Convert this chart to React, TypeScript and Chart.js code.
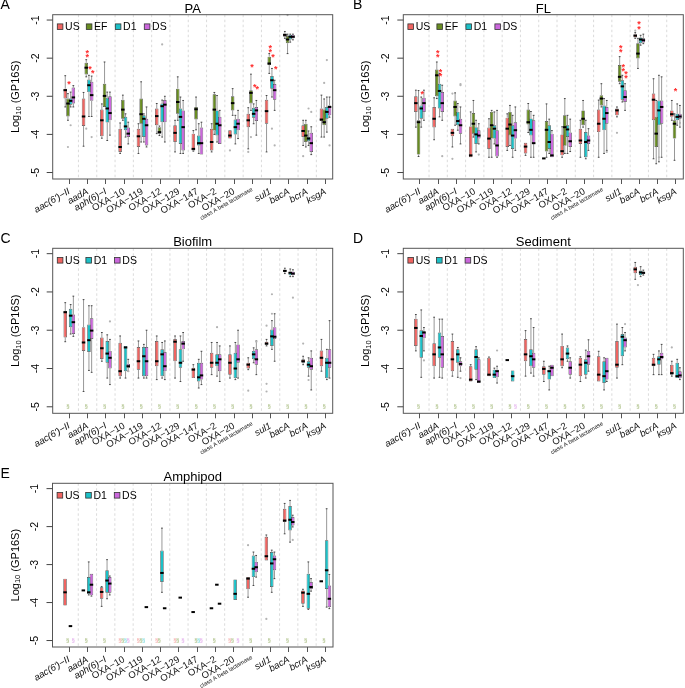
import React, { useEffect, useRef } from "react";
import { Chart, registerables } from "chart.js";

Chart.register(...registerables);

// [upper whisker, Q3, median, Q1, lower whisker] in log10 (GP16S)
type Box = [number, number, number, number, number] | null;
type Outlier = [number, number, number]; // [gene index, series index, value]
type Star = [number, number, number, number]; // [gene index, series index, top value, count]

const FONT = '"Liberation Sans", Arial, Helvetica, sans-serif';

const GENES = [
  "aac(6')\u2212II", "aadA", "aph(6)\u2212I", "OXA\u221210", "OXA\u2212119", "OXA\u221212",
  "OXA\u2212129", "OXA\u2212147", "OXA\u22122", "OXA\u221220", "class A beta lactamase",
  "sul1", "bacA", "bcrA", "ksgA",
];
const GENE_ITALIC = [true, true, true, false, false, false, false, false, false, false, false, true, true, true, true];
const SERIES = ["US", "EF", "D1", "DS"];
const SERIES_COLORS = ["#EF6461", "#688C22", "#1BC0C7", "#CB67DC"];
const Y_TICKS = [-1, -2, -3, -4, -5];
const Y_TICK_LABELS = ["-1", "-2", "-3", "-4", "-5"];
const Y_MIN = -5.17;
const Y_MAX = -0.86;
const Y_TITLE = ["Log", "10", " (GP16S)"];
const MISSING_MARK = "\u00A7";
const MISSING_VALUE = -5;

// ---------- Panel A: PA ----------
const PA_US: Box[] = [
  [-2.46, -2.8, -2.84, -3.06, -3.28], [-2.9, -3.06, -3.53, -3.78, -4.31], [-3.2, -3.35, -3.63, -4.05, -4.1],
  [-3.7, -3.85, -4.33, -4.46, -4.5], [-3.72, -3.85, -4.05, -4.33, -4.5], [-3.19, -3.32, -3.52, -3.76, -3.98],
  [-3.63, -3.76, -3.96, -4.2, -4.46], [-3.9, -3.98, -4.38, -4.42, -4.44], [-3.72, -3.85, -4.2, -4.42, -4.46],
  [-3.89, -3.89, -4.03, -4.11, -4.11], [-3.3, -3.46, -3.63, -3.81, -4.38], [-2.98, -3.09, -3.39, -3.72, -4.46],
  [-1.3, -1.35, -1.39, -1.44, -1.48], [-3.63, -3.76, -3.91, -4.07, -4.29], [-2.97, -3.32, -3.61, -3.65, -4.07],
];
const PA_EF: Box[] = [
  [-2.93, -3.06, -3.19, -3.53, -3.63], [-2.04, -2.12, -2.25, -2.43, -2.49], [-2.1, -2.67, -2.99, -3.28, -3.28],
  [-2.97, -3.09, -3.35, -3.59, -3.63], [-2.62, -3.06, -3.47, -3.72, -4.2], [-3.78, -3.81, -3.94, -3.98, -4.03],
  [-2.49, -2.8, -3.15, -3.46, -3.63], [-3.02, -3.28, -3.34, -3.61, -3.88], [-2.9, -2.95, -3.35, -3.9, -4.0],
  [-2.8, -3.0, -3.18, -3.37, -3.5], [-2.42, -2.84, -2.91, -3.19, -3.37], [-1.88, -1.96, -2.14, -2.18, -2.4],
  [-1.37, -1.42, -1.51, -1.61, -1.88], [-3.63, -3.72, -4.03, -4.2, -4.33], [-3.07, -3.35, -3.68, -3.76, -4.07],
];
const PA_D1: Box[] = [
  [-2.89, -3.06, -3.12, -3.22, -3.28], [-2.45, -2.56, -2.71, -2.89, -3.53], [-2.89, -3.04, -3.32, -3.69, -4.16],
  [-3.46, -3.54, -3.79, -3.89, -4.07], [-3.46, -3.5, -3.59, -4.07, -4.2], [-3.1, -3.19, -3.26, -3.68, -4.07],
  [-3.02, -3.32, -3.54, -4.25, -4.5], [-3.72, -4.03, -4.23, -4.29, -4.5], [-2.98, -3.37, -3.72, -4.03, -4.2],
  [-3.5, -3.61, -3.81, -4.0, -4.25], [-3.2, -3.3, -3.46, -3.56, -3.72], [-2.27, -2.47, -2.58, -2.8, -3.02],
  [-1.37, -1.39, -1.44, -1.51, -1.58], [-3.91, -4.07, -4.11, -4.18, -4.29], [-3.02, -3.28, -3.41, -3.59, -3.94],
];
const PA_DS: Box[] = [
  [-2.72, -2.77, -3.03, -3.19, -3.28], [-2.47, -2.62, -2.97, -3.12, -3.53], [-2.89, -3.0, -3.44, -3.63, -4.02],
  [-3.68, -3.82, -3.98, -4.07, -4.25], [-3.28, -3.59, -3.76, -4.29, -4.33], [-3.0, -3.1, -3.22, -3.68, -4.2],
  [-3.11, -3.37, -3.81, -4.42, -4.5], [-3.68, -3.82, -4.23, -4.53, -4.53], [-3.37, -3.54, -3.76, -4.25, -4.25],
  [-3.37, -3.59, -3.72, -3.89, -4.11], [-3.11, -3.28, -3.37, -3.65, -4.02], [-2.58, -2.68, -2.84, -3.09, -3.37],
  [-1.37, -1.39, -1.44, -1.48, -1.52], [-3.8, -3.96, -4.23, -4.46, -4.53], [-3.02, -3.24, -3.28, -3.5, -3.55],
];
const PA_OUTLIERS: Outlier[] = [
  [0, 2, -3.76], [0, 1, -4.33], [1, 1, -3.85], [1, 3, -4.07], [5, 2, -1.64], [9, 0, -4.42], [10, 0, -4.46],
  [10, 1, -4.07], [11, 2, -3.85], [11, 3, -4.29], [12, 1, -0.87], [13, 0, -4.57], [13, 2, -3.32], [13, 3, -3.41],
  [14, 2, -2.05], [14, 1, -2.65], [14, 3, -4.29],
];
const PA_STARS: Star[] = [
  [0, 1, -2.62, 1], [1, 1, -1.81, 2], [1, 2, -2.22, 1], [1, 3, -2.33, 1], [10, 1, -2.17, 1], [10, 2, -2.7, 1],
  [10, 3, -2.76, 1], [11, 1, -1.68, 2], [11, 2, -1.91, 1], [11, 3, -2.22, 1],
];

// ---------- Panel B: FL ----------
const FL_US: Box[] = [
  [-2.84, -3.0, -3.18, -3.41, -3.81], [-3.04, -3.28, -3.59, -3.82, -4.14], [-3.85, -3.85, -3.96, -4.05, -4.33],
  [-3.41, -3.79, -4.55, -4.6, -4.6], [-3.59, -3.82, -4.11, -4.38, -4.6], [-3.46, -3.56, -3.85, -4.33, -4.42],
  [-4.22, -4.22, -4.32, -4.5, -4.55], [-4.63, -4.63, -4.63, -4.63, -4.63], [-3.8, -4.0, -4.44, -4.55, -4.6],
  [-3.63, -3.85, -4.16, -4.25, -4.6], [-3.1, -3.35, -3.72, -3.94, -4.6], [-3.28, -3.32, -3.37, -3.5, -3.54],
  [-1.33, -1.37, -1.41, -1.46, -1.48], [-2.54, -2.93, -3.09, -3.63, -4.64], [-3.11, -3.37, -3.47, -3.54, -3.63],
];
const FL_EF: Box[] = [
  [-2.85, -3.63, -3.68, -4.53, -4.58], [-2.1, -2.3, -2.45, -3.0, -3.06], [-2.91, -3.11, -3.28, -3.53, -3.76],
  [-3.11, -3.44, -3.72, -3.98, -4.07], [-3.37, -3.41, -3.76, -4.11, -4.6], [-3.24, -3.41, -3.74, -4.03, -4.29],
  [-3.19, -3.35, -3.68, -3.74, -3.95], [-3.2, -3.65, -3.88, -4.45, -4.6], [-3.06, -3.5, -3.81, -4.3, -4.5],
  [-3.11, -3.37, -3.59, -3.76, -3.81], [-2.67, -2.97, -3.06, -3.24, -3.28], [-1.96, -2.18, -2.49, -2.62, -2.67],
  [-1.48, -1.61, -1.88, -2.01, -2.27], [-3.11, -3.54, -3.98, -4.33, -4.77], [-3.46, -3.63, -3.72, -4.11, -4.68],
];
const FL_D1: Box[] = [
  [-3.02, -3.24, -3.32, -3.59, -3.81], [-2.4, -2.67, -2.86, -3.32, -3.54], [-3.19, -3.41, -3.65, -3.76, -3.89],
  [-3.63, -3.81, -4.0, -4.25, -4.46], [-3.41, -3.76, -3.85, -4.11, -4.25], [-3.5, -3.76, -4.03, -4.38, -4.6],
  [-3.4, -3.58, -3.88, -4.03, -4.6], [-3.6, -3.76, -4.2, -4.38, -4.5], [-3.5, -3.76, -3.87, -4.07, -4.5],
  [-3.63, -3.94, -4.2, -4.6, -4.64], [-3.06, -3.24, -3.59, -3.89, -4.5], [-2.45, -2.58, -2.74, -3.09, -3.15],
  [-1.4, -1.46, -1.51, -1.61, -1.66], [-2.45, -3.11, -3.37, -3.76, -4.72], [-3.2, -3.46, -3.54, -3.63, -3.76],
];
const FL_DS: Box[] = [
  [-2.84, -3.04, -3.18, -3.41, -3.63], [-2.71, -2.89, -3.18, -3.41, -3.63], [-3.28, -3.59, -3.76, -3.98, -4.25],
  [-3.72, -3.89, -4.03, -4.11, -4.25], [-3.37, -3.89, -4.29, -4.58, -4.6], [-3.28, -3.68, -3.89, -4.11, -4.42],
  [-3.5, -3.63, -4.23, -4.25, -4.6], [-3.9, -3.98, -4.55, -4.6, -4.6], [-3.6, -3.95, -4.18, -4.33, -4.45],
  [-3.85, -4.03, -4.16, -4.25, -4.42], [-3.11, -3.28, -3.44, -3.72, -4.42], [-2.67, -2.84, -3.02, -3.15, -3.37],
  [-1.37, -1.48, -1.53, -1.59, -1.62], [-2.49, -3.11, -3.28, -3.72, -4.6], [-3.24, -3.46, -3.53, -3.59, -3.81],
];
const FL_OUTLIERS: Outlier[] = [
  [1, 3, -4.57], [2, 0, -4.64], [2, 0, -2.93], [2, 3, -2.68], [2, 3, -2.71], [3, 3, -4.53], [10, 3, -4.46],
  [11, 0, -3.96], [12, 0, -1.28], [13, 2, -4.6], [14, 3, -3.7],
];
const FL_STARS: Star[] = [
  [0, 2, -2.9, 1], [1, 1, -1.8, 2], [1, 2, -2.3, 2], [11, 1, -1.68, 2], [11, 2, -2.17, 2], [11, 3, -2.36, 2],
  [12, 1, -1.06, 2], [14, 1, -2.82, 1],
];

// ---------- Panel C: Biofilm ----------
const BF_US: Box[] = [
  [-2.28, -2.5, -2.53, -3.19, -3.3], [-2.2, -2.92, -3.32, -3.54, -4.6], [-3.06, -3.19, -3.47, -3.75, -3.81],
  [-3.15, -3.33, -4.07, -4.2, -4.25], [-3.28, -3.44, -3.81, -4.03, -4.25], [-3.15, -3.28, -3.81, -3.94, -4.29],
  [-3.15, -3.23, -3.3, -3.81, -4.25], [-3.9, -3.98, -4.03, -4.25, -4.25], [-3.32, -3.59, -3.85, -3.98, -4.16],
  [-3.41, -3.63, -3.85, -4.16, -4.25], [-3.72, -3.85, -3.9, -4.0, -4.03], [-3.24, -3.3, -3.35, -3.38, -3.41],
  [-1.38, -1.42, -1.45, -1.47, -1.52], [-3.68, -3.76, -3.81, -3.85, -3.9], [-3.24, -3.53, -3.72, -3.94, -4.07],
];
const BF_EF: Box[] = Array(15).fill(null);
const BF_D1: Box[] = [
  [-2.33, -2.44, -2.62, -2.92, -3.1], [-2.36, -2.85, -3.26, -3.57, -4.05], [-3.12, -3.28, -3.61, -3.85, -4.25],
  [-3.41, -3.41, -3.45, -4.07, -4.25], [-3.37, -3.44, -3.68, -4.2, -4.25], [-3.32, -3.5, -3.63, -4.2, -4.25],
  [-3.15, -3.5, -3.85, -3.98, -4.34], [-3.76, -3.85, -4.23, -4.34, -4.51], [-3.32, -3.63, -3.85, -3.94, -4.2],
  [-3.32, -3.59, -4.0, -4.25, -4.29], [-3.46, -3.54, -3.63, -3.76, -3.85], [-2.75, -2.98, -3.16, -3.41, -3.5],
  [-1.4, -1.47, -1.5, -1.56, -1.6], [-3.72, -3.81, -3.9, -3.98, -4.2], [-3.5, -3.72, -3.85, -4.25, -4.29],
];
const BF_DS: Box[] = [
  [-2.11, -2.59, -2.79, -3.1, -3.16], [-2.36, -2.69, -3.01, -3.23, -4.1], [-3.24, -3.54, -3.72, -4.0, -4.42],
  [-3.76, -3.88, -3.94, -3.98, -4.07], [-3.0, -3.44, -3.81, -4.2, -4.25], [-3.28, -3.57, -3.94, -4.07, -4.29],
  [-3.06, -3.28, -3.35, -3.5, -3.81], [-3.55, -3.85, -4.18, -4.29, -4.42], [-3.41, -3.63, -3.76, -4.07, -4.34],
  [-3.0, -3.37, -3.76, -3.85, -4.25], [-3.28, -3.5, -3.76, -3.9, -4.16], [-2.57, -2.92, -3.17, -3.23, -3.81],
  [-1.42, -1.47, -1.52, -1.56, -1.6], [-3.54, -3.72, -3.94, -4.03, -4.56], [-2.75, -3.5, -3.85, -3.98, -4.25],
];
const BF_OUTLIERS: Outlier[] = [
  [2, 3, -2.77], [3, 3, -4.07], [8, 2, -2.92], [10, 0, -4.58], [10, 3, -3.3], [11, 0, -2.88], [11, 0, -4.4],
  [11, 0, -4.6], [11, 2, -2.06], [11, 2, -2.57], [12, 3, -2.15], [13, 0, -3.35], [13, 2, -4.3],
];
const BF_STARS: Star[] = [];

// ---------- Panel D: Sediment ----------
const SD_US: Box[] = [
  [-2.59, -2.7, -2.94, -3.41, -3.54], [-2.66, -3.34, -3.63, -3.94, -4.25], [-3.1, -3.28, -3.76, -4.07, -4.2],
  [-3.9, -3.94, -4.29, -4.34, -4.34], [-3.7, -3.72, -4.16, -4.2, -4.2], [-3.78, -3.78, -3.78, -3.78, -3.78],
  [-3.01, -3.23, -3.63, -3.81, -4.2], [-3.81, -3.94, -4.01, -4.16, -4.34], [-3.1, -3.41, -3.76, -3.94, -3.98],
  [-3.69, -3.72, -3.9, -4.2, -4.34], [-3.55, -3.68, -4.16, -4.34, -4.34], [-2.84, -3.28, -3.9, -3.98, -4.25],
  [-1.23, -1.34, -1.41, -1.51, -1.67], [-3.63, -3.72, -3.9, -3.94, -4.16], [-3.81, -3.9, -4.12, -4.16, -4.2],
];
const SD_EF: Box[] = Array(15).fill(null);
const SD_D1: Box[] = [
  [-2.47, -3.0, -3.15, -3.72, -4.23], [-2.71, -3.06, -3.45, -3.72, -4.23], [-3.45, -3.5, -3.63, -3.85, -4.23],
  [-3.43, -3.5, -3.7, -4.03, -4.29], [-3.99, -4.03, -4.16, -4.25, -4.25], [-4.05, -4.05, -4.2, -4.34, -4.34],
  [-2.7, -3.5, -3.68, -3.94, -4.12], [-3.94, -4.03, -4.07, -4.29, -4.56], [-3.41, -3.45, -3.61, -3.76, -3.81],
  [-3.52, -3.76, -3.85, -4.16, -4.25], [-3.72, -3.81, -4.2, -4.38, -4.56], [-2.93, -3.1, -3.17, -3.68, -3.9],
  [-1.34, -1.44, -1.49, -1.56, -1.6], [-3.54, -3.68, -3.76, -3.9, -4.16], [-3.76, -3.85, -4.2, -4.25, -4.25],
];
const SD_DS: Box[] = [
  [-2.93, -3.03, -3.06, -3.21, -3.54], [-2.71, -3.15, -3.63, -3.98, -4.25], [-3.72, -3.81, -3.88, -3.94, -4.07],
  [-3.72, -3.76, -4.34, -4.38, -4.38], [-3.94, -4.03, -4.07, -4.23, -4.38], null,
  [-2.93, -3.59, -3.76, -3.98, -4.2], [-3.9, -3.9, -3.98, -4.2, -4.2], [-3.72, -3.81, -3.98, -4.16, -4.25],
  [-3.25, -3.54, -3.68, -3.9, -4.07], [-3.72, -3.72, -4.07, -4.29, -4.34], [-3.06, -3.19, -3.26, -3.45, -3.54],
  [-1.43, -1.47, -1.5, -1.53, -1.56], [-3.37, -3.59, -3.7, -3.76, -4.16], [-3.98, -4.07, -4.18, -4.25, -4.29],
];
const SD_OUTLIERS: Outlier[] = [
  [0, 3, -3.79], [2, 3, -4.25], [4, 3, -3.53], [11, 3, -2.84], [12, 1, -1.82], [14, 0, -3.45],
];
const SD_STARS: Star[] = [];

// ---------- Panel E: Amphipod ----------
const AM_US: Box[] = [
  [-3.37, -3.37, -3.73, -4.08, -4.08], [-3.68, -3.68, -3.68, -3.68, -3.68], [-3.58, -3.6, -3.72, -3.9, -4.1],
  null, null, null, null, [-4.25, -4.25, -4.25, -4.25, -4.25], [-4.15, -4.15, -4.15, -4.15, -4.15], null,
  [-3.33, -3.33, -3.37, -3.65, -3.86], [-2.22, -2.27, -2.78, -2.89, -2.89], [-1.39, -1.53, -1.84, -1.88, -2.19],
  [-3.65, -3.68, -3.74, -4.03, -4.1], [-3.44, -3.44, -3.44, -3.44, -3.44],
];
const AM_EF: Box[] = Array(15).fill(null);
const AM_D1: Box[] = [
  [-4.62, -4.62, -4.62, -4.62, -4.62], [-2.93, -3.33, -3.73, -3.77, -3.8], [-2.87, -3.15, -3.42, -3.74, -3.9],
  null, null, [-2.04, -2.63, -3.22, -3.46, -3.73], [-3.87, -3.87, -3.87, -3.87, -3.87], null,
  [-3.53, -3.53, -3.53, -3.53, -3.53], [-3.39, -3.39, -3.77, -3.93, -3.93], [-2.67, -2.76, -3.11, -3.33, -3.55],
  [-2.62, -2.67, -2.97, -3.59, -3.73], [-1.31, -1.46, -1.82, -2.1, -2.41], [-2.93, -3.24, -3.77, -4.16, -4.18],
  [-1.53, -2.36, -3.15, -3.64, -4.12],
];
const AM_DS: Box[] = [
  null, [-3.24, -3.24, -3.53, -3.81, -3.83], [-3.3, -3.33, -3.5, -3.74, -3.8], null,
  [-4.12, -4.12, -4.12, -4.12, -4.12], [-4.15, -4.15, -4.15, -4.15, -4.15], null, null,
  [-4.03, -4.03, -4.03, -4.03, -4.03], null, [-2.76, -2.93, -3.07, -3.2, -3.33], [-2.67, -2.76, -2.86, -3.15, -3.37],
  [-1.7, -1.75, -1.88, -1.97, -2.01], [-3.37, -3.46, -3.59, -3.64, -3.7], [-3.26, -3.55, -3.9, -4.12, -4.16],
];
const AM_OUTLIERS: Outlier[] = [[10, 0, -2.49], [11, 0, -4.43], [12, 3, -2.35]];
const AM_STARS: Star[] = [];

// ---------- layout ----------
interface Frame { l: number; t: number; r: number; b: number }
interface PanelDef {
  key: string; title: string; letter: string;
  left: number; top: number; width: number; height: number;
  frame: Frame; letterX: number;
  data: Box[][]; outliers: Outlier[]; stars: Star[];
}

const CAT_SPAN = 274.5; // width of the 15 category slots
const CAT_INSET = 7.45; // first slot edge relative to frame left

const PANELS: PanelDef[] = [
  { key: "A", title: "PA", letter: "A", left: 0, top: 0, width: 340, height: 229,
    frame: { l: 52.7, t: 14.7, r: 332.7, b: 179 }, letterX: 0.5,
    data: [PA_US, PA_EF, PA_D1, PA_DS], outliers: PA_OUTLIERS, stars: PA_STARS },
  { key: "B", title: "FL", letter: "B", left: 340, top: 0, width: 345, height: 229,
    frame: { l: 63.3, t: 14.7, r: 343.3, b: 179 }, letterX: 13,
    data: [FL_US, FL_EF, FL_D1, FL_DS], outliers: FL_OUTLIERS, stars: FL_STARS },
  { key: "C", title: "Biofilm", letter: "C", left: 0, top: 229, width: 340, height: 229,
    frame: { l: 52.7, t: 19.3, r: 332.7, b: 184.3 }, letterX: 0.5,
    data: [BF_US, BF_EF, BF_D1, BF_DS], outliers: BF_OUTLIERS, stars: BF_STARS },
  { key: "D", title: "Sediment", letter: "D", left: 340, top: 229, width: 345, height: 229,
    frame: { l: 63.3, t: 19.3, r: 343.3, b: 184.3 }, letterX: 13,
    data: [SD_US, SD_EF, SD_D1, SD_DS], outliers: SD_OUTLIERS, stars: SD_STARS },
  { key: "E", title: "Amphipod", letter: "E", left: 0, top: 458, width: 340, height: 230,
    frame: { l: 52.5, t: 25.3, r: 333, b: 189 }, letterX: 0.5,
    data: [AM_US, AM_EF, AM_D1, AM_DS], outliers: AM_OUTLIERS, stars: AM_STARS },
];

function line(ctx: CanvasRenderingContext2D, x1: number, y1: number, x2: number, y2: number) {
  ctx.beginPath();
  ctx.moveTo(x1, y1);
  ctx.lineTo(x2, y2);
  ctx.stroke();
}

function fade(hex: string, a: number) {
  const n = parseInt(hex.slice(1), 16);
  return `rgba(${(n >> 16) & 255},${(n >> 8) & 255},${n & 255},${a})`;
}

function makeDeco(p: PanelDef) {
  return {
    id: "deco" + p.key,
    beforeDatasetsDraw(chart: any) {
      const ctx: CanvasRenderingContext2D = chart.ctx;
      const xs = chart.scales.x;
      const ys = chart.scales.y;
      const f = p.frame;
      ctx.save();
      // dashed separators between genes
      ctx.strokeStyle = "#d2d2d2";
      ctx.lineWidth = 0.8;
      ctx.setLineDash([2.5, 2.5]);
      for (let i = 0; i < GENES.length - 1; i++) {
        const x = (xs.getPixelForTick(i) + xs.getPixelForTick(i + 1)) / 2;
        line(ctx, x, f.t, x, f.b);
      }
      ctx.setLineDash([]);
      // whiskers
      p.data.forEach((series, s) => {
        const meta = chart.getDatasetMeta(s);
        series.forEach((b, i) => {
          const el = meta.data[i];
          if (!b || !el) return;
          const x = el.x;
          const hw = el.width / 2;
          ctx.strokeStyle = "#7d7d7d";
          ctx.lineWidth = 0.8;
          if (b[0] !== b[1]) line(ctx, x, ys.getPixelForValue(b[0]), x, ys.getPixelForValue(b[1]));
          if (b[3] !== b[4]) line(ctx, x, ys.getPixelForValue(b[3]), x, ys.getPixelForValue(b[4]));
          ctx.strokeStyle = "#222";
          if (b[0] !== b[1]) line(ctx, x - hw * 0.5, ys.getPixelForValue(b[0]), x + hw * 0.5, ys.getPixelForValue(b[0]));
          if (b[3] !== b[4]) line(ctx, x - hw * 0.5, ys.getPixelForValue(b[4]), x + hw * 0.5, ys.getPixelForValue(b[4]));
        });
      });
      ctx.restore();
    },
    afterDatasetsDraw(chart: any) {
      const ctx: CanvasRenderingContext2D = chart.ctx;
      const ys = chart.scales.y;
      const f = p.frame;
      ctx.save();
      // medians and missing-group marks
      p.data.forEach((series, s) => {
        const meta = chart.getDatasetMeta(s);
        series.forEach((b, i) => {
          const el = meta.data[i];
          if (!el) return;
          if (b) {
            const y = ys.getPixelForValue(b[2]);
            ctx.strokeStyle = "#000";
            ctx.lineWidth = 2;
            line(ctx, el.x - el.width / 2, y, el.x + el.width / 2, y);
          } else {
            ctx.fillStyle = fade(SERIES_COLORS[s], 0.6);
            ctx.font = `6px ${FONT}`;
            ctx.textAlign = "center";
            ctx.textBaseline = "middle";
            ctx.fillText(MISSING_MARK, el.x, ys.getPixelForValue(MISSING_VALUE));
          }
        });
      });
      // outliers
      ctx.fillStyle = "#b3b3b3";
      p.outliers.forEach(([i, s, v]) => {
        const el = chart.getDatasetMeta(s).data[i];
        if (!el) return;
        ctx.beginPath();
        ctx.arc(el.x, ys.getPixelForValue(v), 1.1, 0, Math.PI * 2);
        ctx.fill();
      });
      // significance stars
      ctx.fillStyle = "#FF2B2B";
      ctx.font = `bold 9px ${FONT}`;
      ctx.textAlign = "center";
      ctx.textBaseline = "alphabetic";
      p.stars.forEach(([i, s, v, n]) => {
        const el = chart.getDatasetMeta(s).data[i];
        if (!el) return;
        for (let k = 0; k < n; k++) {
          ctx.fillText("*", el.x + 1, ys.getPixelForValue(v) + 5 + k * 4.2);
        }
      });
      // frame
      ctx.strokeStyle = "#555";
      ctx.lineWidth = 1;
      ctx.strokeRect(f.l, f.t, f.r - f.l, f.b - f.t);
      // y axis ticks + labels
      ctx.fillStyle = "#000";
      ctx.font = `10.5px ${FONT}`;
      Y_TICKS.forEach((v, k) => {
        const y = ys.getPixelForValue(v);
        ctx.strokeStyle = "#444";
        line(ctx, f.l - 6, y, f.l, y);
        ctx.save();
        ctx.translate(f.l - 17, y);
        ctx.rotate(-Math.PI / 2);
        ctx.textAlign = "center";
        ctx.textBaseline = "middle";
        ctx.fillText(Y_TICK_LABELS[k], 0, 0);
        ctx.restore();
      });
      // y title with subscript
      ctx.save();
      ctx.translate(f.l - 37, (f.t + f.b) / 2);
      ctx.rotate(-Math.PI / 2);
      ctx.textAlign = "left";
      ctx.textBaseline = "middle";
      const mainF = `11px ${FONT}`;
      const subF = `7.5px ${FONT}`;
      ctx.font = mainF;
      const w1 = ctx.measureText(Y_TITLE[0]).width;
      const w3 = ctx.measureText(Y_TITLE[2]).width;
      ctx.font = subF;
      const w2 = ctx.measureText(Y_TITLE[1]).width;
      const x0 = -(w1 + w2 + w3) / 2;
      ctx.font = mainF;
      ctx.fillText(Y_TITLE[0], x0, 0);
      ctx.font = subF;
      ctx.fillText(Y_TITLE[1], x0 + w1, 2.8);
      ctx.font = mainF;
      ctx.fillText(Y_TITLE[2], x0 + w1 + w2, 0);
      ctx.restore();
      // legend (series that have data)
      const shown = SERIES.map((_, s) => s).filter((s) => p.data[s].some((b) => b !== null));
      const step = shown.length === 4 ? 29 : 28.6;
      ctx.font = `10.5px ${FONT}`;
      ctx.textAlign = "left";
      ctx.textBaseline = "middle";
      shown.forEach((s, k) => {
        const x = f.l + 4.6 + k * step;
        const y = f.t + 12;
        ctx.fillStyle = SERIES_COLORS[s];
        ctx.fillRect(x, y - 2.8, 5.6, 5.6);
        ctx.strokeStyle = "#333";
        ctx.lineWidth = 0.8;
        ctx.strokeRect(x, y - 2.8, 5.6, 5.6);
        ctx.fillStyle = "#000";
        ctx.fillText(SERIES[s], x + 7.8, y + 0.5);
      });
      // title and panel letter
      ctx.fillStyle = "#000";
      ctx.font = `13px ${FONT}`;
      ctx.textAlign = "center";
      ctx.textBaseline = "alphabetic";
      ctx.fillText(p.title, (f.l + f.r) / 2, f.t - 2);
      ctx.font = `14px ${FONT}`;
      ctx.textAlign = "left";
      ctx.fillText(p.letter, p.letterX, f.t - 5.5);
      ctx.restore();
    },
  };
}

function buildConfig(p: PanelDef): any {
  const f = p.frame;
  const plotL = f.l + CAT_INSET;
  return {
    type: "bar",
    data: {
      labels: GENES,
      datasets: SERIES.map((name, s) => ({
        label: name,
        data: p.data[s].map((b) => (b ? [b[3], b[1]] : null)),
        backgroundColor: SERIES_COLORS[s],
        borderColor: "#4a4a4a",
        borderWidth: 0.7,
        borderSkipped: false,
      })),
    },
    options: {
      responsive: false,
      animation: false,
      events: [],
      layout: { padding: { left: plotL, right: p.width - plotL - CAT_SPAN, top: f.t, bottom: 0 } },
      datasets: { bar: { categoryPercentage: 0.59, barPercentage: 1.3 } },
      plugins: { legend: { display: false }, tooltip: { enabled: false }, title: { display: false } },
      scales: {
        x: {
          type: "category",
          offset: true,
          border: { display: false },
          grid: { display: true, drawOnChartArea: false, drawTicks: true, tickLength: 5, color: "#555", offset: false },
          ticks: {
            autoSkip: false,
            minRotation: 30,
            maxRotation: 30,
            padding: 2,
            color: "#111",
            font: (c: any) => ({
              family: FONT,
              size: c.index === 10 ? 5.8 : 9.5,
              style: GENE_ITALIC[c.index] ? "italic" : "normal",
            }),
          },
          afterFit: (scale: any) => {
            scale.height = p.height - f.b;
          },
        },
        y: { display: false, min: Y_MIN, max: Y_MAX },
      },
    },
    plugins: [makeDeco(p)],
  };
}

function Panel({ p }: { p: PanelDef }) {
  const ref = useRef<HTMLCanvasElement>(null);
  useEffect(() => {
    if (!ref.current) return;
    const chart = new Chart(ref.current, buildConfig(p));
    return () => chart.destroy();
  }, [p]);
  return (
    <div style={{ position: "absolute", left: p.left, top: p.top, width: p.width, height: p.height }}>
      <canvas ref={ref} width={p.width} height={p.height} style={{ display: "block", width: p.width, height: p.height }} />
    </div>
  );
}

export default function App() {
  return (
    <div style={{ position: "absolute", left: 0, top: 0, width: 685, height: 688, background: "#fff", overflow: "hidden" }}>
      {PANELS.map((p) => (
        <Panel key={p.key} p={p} />
      ))}
    </div>
  );
}
